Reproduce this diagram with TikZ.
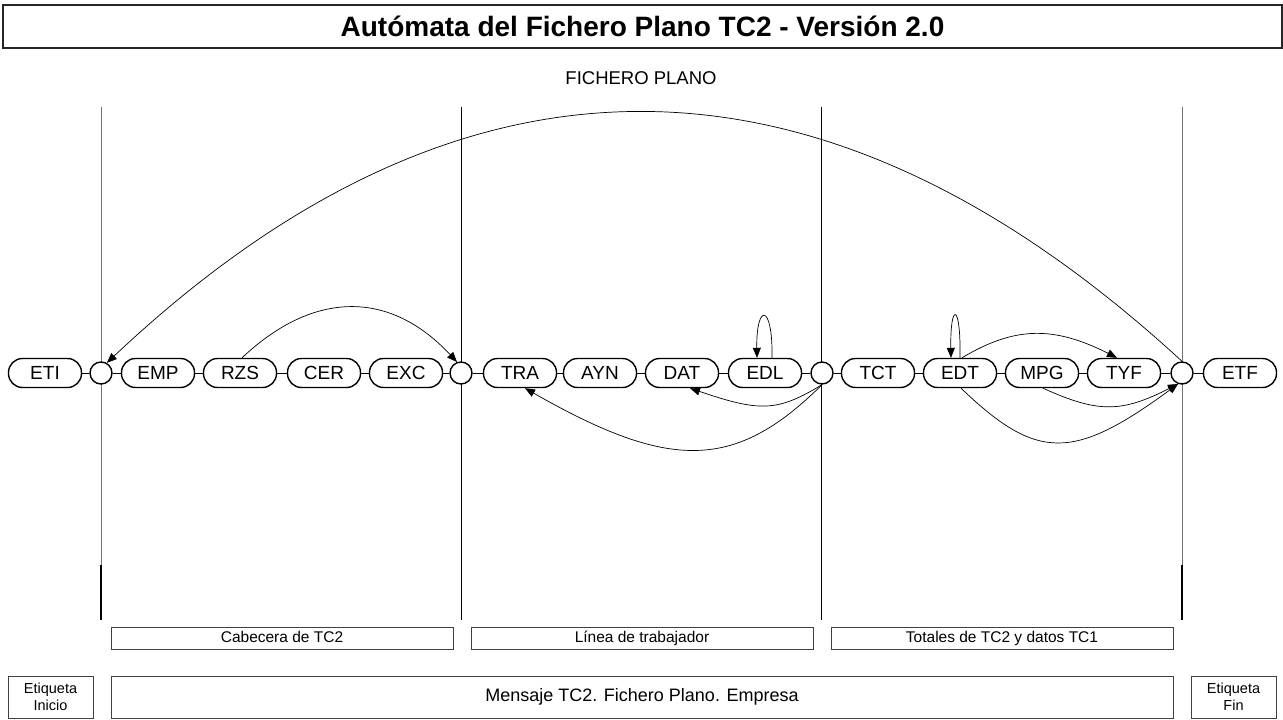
\documentclass[tikz,border=0pt]{standalone}
\usepackage{fontspec}
\setmainfont{Liberation Sans}
\usetikzlibrary{arrows.meta}
\begin{document}
\begin{tikzpicture}[x=1pt,y=-1pt,
  stbox/.style={draw,line width=1.4pt,rounded corners=14pt,minimum width=73pt,minimum height=29pt,inner sep=0pt,fill=white,font=\fontsize{19}{21}\selectfont,text height=13.5pt,text depth=0pt},
  junc/.style={draw,line width=1.4pt,circle,minimum size=22pt,inner sep=0pt,fill=white},
  link/.style={line width=0.9pt},
  arr/.style={line width=0.7pt,-{Triangle[length=10pt,width=8pt]}},
  secbox/.style={draw=black!75,line width=0.8pt,inner sep=0pt,minimum width=342pt,minimum height=22pt,font=\fontsize{15.5}{17}\selectfont,text height=11.5pt,text depth=3pt},
  msgbox/.style={draw=black!75,line width=0.8pt,inner sep=0pt,minimum height=42pt,align=center},
  gline/.style={draw=black!55,line width=0.9pt},
  bline/.style={draw=black,line width=1.5pt},
  tline/.style={draw=black,line width=0.8pt}
]
\useasboundingbox (0,0) rectangle (1283,720);

% title
\node[draw=black!85,line width=1.1pt,minimum width=1279pt,minimum height=43pt,inner sep=0pt,font=\fontsize{28}{30}\selectfont\bfseries] (title) at (642.5,26.5) {Autómata del Fichero Plano TC2 - Versión 2.0};
\node[font=\fontsize{18.5}{20}\selectfont] (fp) at (641,78) {FICHERO PLANO};

% vertical separators
\draw[gline] (101,107) -- (101,565);
\draw[bline] (101,565) -- (101,620);
\draw[tline] (461,107) -- (461,620);
\draw[tline] (821,107) -- (821,620);
\draw[gline] (1182,107) -- (1182,565);
\draw[bline] (1182,565) -- (1182,620);

% main row
\node[stbox] (eti) at (45,373) {ETI};
\node[junc] (c1) at (101,373) {};
\node[stbox] (emp) at (158,373) {EMP};
\node[stbox] (rzs) at (240,373) {RZS};
\node[stbox] (cer) at (324,373) {CER};
\node[stbox] (exc) at (406,373) {EXC};
\node[junc] (c2) at (461,373) {};
\node[stbox] (tra) at (520,373) {TRA};
\node[stbox] (ayn) at (600,373) {AYN};
\node[stbox] (dat) at (682,373) {DAT};
\node[stbox] (edl) at (765,373) {EDL};
\node[junc] (c3) at (822,373) {};
\node[stbox] (tct) at (878,373) {TCT};
\node[stbox] (edt) at (960,373) {EDT};
\node[stbox] (mpg) at (1042,373) {MPG};
\node[stbox] (tyf) at (1124,373) {TYF};
\node[junc] (c4) at (1182,373) {};
\node[stbox] (etf) at (1240,373) {ETF};

\foreach \a/\b in {eti/c1,c1/emp,emp/rzs,rzs/cer,cer/exc,exc/c2,c2/tra,tra/ayn,ayn/dat,dat/edl,edl/c3,c3/tct,tct/edt,edt/mpg,mpg/tyf,tyf/c4,c4/etf}
  \draw[link] (\a) -- (\b);

% transitions
\draw[arr] (c4.north) .. controls (821,29) and (461,29) .. (c1.60);
\draw[arr] ([xshift=2pt]rzs.north) .. controls (314,290) and (390,290) .. (c2.110);
\draw[arr] ([xshift=7pt]edl.north) .. controls +(1,-55) and +(-1,-55) .. ([xshift=-8pt]edl.north);
\draw[arr] (c3.south) .. controls (777,412) and (760,412) .. ([xshift=8pt]dat.south);
\draw[arr] (c3.south) .. controls (735,471) and (670,471) .. ([xshift=5pt]tra.south);
\draw[arr] (edt.north) .. controls +(1,-56) and +(-1,-56) .. ([xshift=-9pt]edt.north);
\draw[arr] ([xshift=2pt]edt.north) .. controls (1015,326) and (1054,326) .. ([xshift=-7pt]tyf.north);
\draw[arr] ([xshift=1pt]mpg.south) .. controls (1098,413) and (1121,413) .. (c4.250);
\draw[arr] ([xshift=1pt]edt.south) .. controls (1037,461) and (1073,461) .. (c4.250);

% section boxes
\node[secbox] (cab) at (282,638) {Cabecera de TC2};
\node[secbox] (lin) at (642,638) {Línea de trabajador};
\node[secbox] (tot) at (1002,638) {Totales de TC2 y datos TC1};

% bottom boxes
\node[msgbox,minimum width=85pt,font=\fontsize{14.5}{17}\selectfont] (ini) at (50.5,697) {Etiqueta\\Inicio};
\node[msgbox,minimum width=1062pt,font=\fontsize{18}{20}\selectfont] (msg) at (642,697) {Mensaje TC2. Fichero Plano. Empresa};
\node[msgbox,minimum width=85pt,font=\fontsize{14.5}{17}\selectfont] (fin) at (1233.5,697) {Etiqueta\\Fin};
\end{tikzpicture}
\end{document}
